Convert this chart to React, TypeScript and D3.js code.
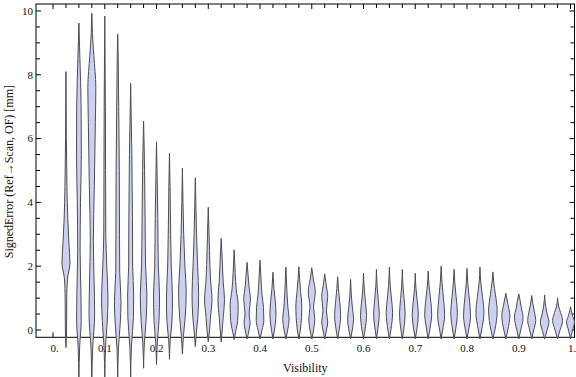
import React from "react";
import * as d3 from "d3";

const visibility = [
  0.025, 0.05, 0.075, 0.1, 0.125, 0.15, 0.175, 0.2, 0.225, 0.25,
  0.275, 0.3, 0.325, 0.35, 0.375, 0.4, 0.425, 0.45, 0.475, 0.5,
  0.525, 0.55, 0.575, 0.6, 0.625, 0.65, 0.675, 0.7, 0.725, 0.75,
  0.775, 0.8, 0.825, 0.85, 0.875, 0.9, 0.925, 0.95, 0.975, 1.0,
];

const errMin = [
  -0.55, -1.6, -1.6, -1.6, -1.6, -1.55, -1.2, -1.08, -0.92, -0.75,
  -0.52, -0.37, -0.37, -0.3, -0.28, -0.28, -0.28, -0.28, -0.28, -0.28,
  -0.28, -0.28, -0.28, -0.28, -0.28, -0.28, -0.28, -0.28, -0.28, -0.28,
  -0.28, -0.28, -0.28, -0.28, -0.28, -0.28, -0.28, -0.28, -0.28, -0.28,
];

const errMax = [
  8.1, 9.62, 9.93, 9.84, 9.28, 7.73, 6.55, 5.9, 5.54, 5.07,
  4.77, 3.85, 2.87, 2.51, 2.12, 2.19, 1.81, 1.97, 1.98, 1.95,
  1.76, 1.67, 1.59, 1.78, 1.9, 1.97, 1.9, 1.78, 1.85, 2.0,
  1.9, 1.93, 1.97, 1.82, 1.15, 1.13, 1.08, 1.1, 1.01, 0.73,
];

// relative density knots [error, density] between min and max
const densityKnots: [number, number][][] = [
  [[0, 0.12], [1, 0.16], [1.6, 0.3], [2.1, 0.8], [2.7, 0.6], [3.5, 0.36], [4.5, 0.2], [6, 0.08]],
  [[-0.5, 0.16], [0.3, 0.46], [1.2, 0.4], [2.5, 0.24], [4, 0.32], [5.5, 0.48], [7, 0.44], [8.5, 0.2]],
  [[-0.6, 0.16], [0.5, 0.56], [1.5, 0.46], [2.8, 0.3], [4.5, 0.5], [6.5, 0.7], [7.6, 0.8], [8.6, 0.4], [9.3, 0.12]],
  [[-0.5, 0.16], [0.3, 0.5], [1, 0.64], [2, 0.4], [3, 0.2], [5, 0.16], [7, 0.12]],
  [[-0.6, 0.14], [0.2, 0.5], [0.9, 0.66], [1.8, 0.4], [3, 0.36], [5, 0.32], [7, 0.2], [8.5, 0.1]],
  [[-0.5, 0.16], [0.4, 0.56], [1.1, 0.6], [2, 0.4], [3.5, 0.36], [5.5, 0.24], [6.8, 0.1]],
  [[-0.4, 0.16], [0.3, 0.5], [1.1, 0.66], [2, 0.4], [3.5, 0.3], [5, 0.2], [6, 0.08]],
  [[-0.4, 0.16], [0.3, 0.5], [1.1, 0.6], [2, 0.36], [3.5, 0.26], [4.8, 0.12]],
  [[-0.3, 0.16], [0.3, 0.52], [1, 0.6], [2, 0.36], [3, 0.24], [4.5, 0.12]],
  [[-0.2, 0.2], [0.4, 0.56], [1.2, 0.76], [2, 0.5], [3, 0.26], [4, 0.12]],
  [[-0.1, 0.2], [0.4, 0.5], [1.1, 0.66], [2, 0.46], [3, 0.24], [4, 0.1]],
  [[0, 0.26], [0.4, 0.44], [0.95, 0.74], [1.6, 0.44], [2.5, 0.24], [3.2, 0.12]],
  [[0, 0.2], [0.4, 0.4], [0.95, 0.66], [1.5, 0.4], [2.2, 0.2]],
  [[-0.05, 0.3], [0.3, 0.7], [0.8, 0.8], [1.25, 0.44], [1.8, 0.2]],
  [[0, 0.4], [0.25, 0.6], [0.5, 0.4], [0.95, 0.66], [1.4, 0.36]],
  [[0, 0.4], [0.3, 0.76], [0.7, 0.7], [1.1, 0.4], [1.6, 0.2]],
  [[0, 0.3], [0.5, 0.6], [0.9, 0.46], [1.3, 0.2]],
  [[0, 0.36], [0.35, 0.64], [0.7, 0.4], [1.1, 0.24], [1.5, 0.12]],
  [[0, 0.3], [0.4, 0.54], [0.75, 0.6], [1.2, 0.36], [1.6, 0.16]],
  [[0, 0.36], [0.35, 0.6], [0.7, 0.36], [1.2, 0.7], [1.6, 0.3]],
  [[0, 0.36], [0.25, 0.6], [0.6, 0.34], [1.05, 0.6], [1.4, 0.3]],
  [[0, 0.3], [0.45, 0.6], [0.9, 0.4], [1.3, 0.16]],
  [[0, 0.34], [0.35, 0.6], [0.7, 0.36], [1.1, 0.14]],
  [[0, 0.3], [0.45, 0.6], [0.85, 0.4], [1.25, 0.16]],
  [[0, 0.26], [0.5, 0.56], [0.95, 0.36], [1.35, 0.14]],
  [[0, 0.3], [0.55, 0.64], [1, 0.4], [1.4, 0.16]],
  [[0, 0.28], [0.5, 0.56], [0.95, 0.36], [1.4, 0.12]],
  [[0, 0.3], [0.5, 0.6], [0.9, 0.4], [1.3, 0.14]],
  [[0, 0.3], [0.5, 0.7], [1, 0.44], [1.4, 0.16]],
  [[0, 0.3], [0.45, 0.7], [1, 0.46], [1.5, 0.16]],
  [[0, 0.3], [0.55, 0.66], [1.05, 0.4], [1.5, 0.14]],
  [[0, 0.32], [0.45, 0.7], [1, 0.44], [1.45, 0.16]],
  [[0, 0.34], [0.55, 0.8], [1.05, 0.5], [1.5, 0.16]],
  [[0, 0.4], [0.6, 0.86], [1.1, 0.52], [1.5, 0.16]],
  [[0, 0.4], [0.45, 0.8], [0.8, 0.44]],
  [[0, 0.4], [0.4, 0.86], [0.7, 0.5], [0.9, 0.3]],
  [[0, 0.4], [0.3, 0.8], [0.6, 0.5], [0.85, 0.2]],
  [[0, 0.5], [0.25, 0.86], [0.5, 0.5], [0.75, 0.2]],
  [[0, 0.5], [0.3, 1.0], [0.55, 0.6], [0.75, 0.2]],
  [[0, 0.4], [0.25, 0.8], [0.45, 0.4], [0.6, 0.16]],
];

const xTickLabels = ["0.", "0.1", "0.2", "0.3", "0.4", "0.5", "0.6", "0.7", "0.8", "0.9", "1."];
const xTickValues = [0, 0.1, 0.2, 0.3, 0.4, 0.5, 0.6, 0.7, 0.8, 0.9, 1.0];
const yTickValues = [0, 2, 4, 6, 8, 10];
const yTickLabels = ["0", "2", "4", "6", "8", "10"];

const W = 576;
const H = 377;
const FONT = "'Liberation Serif', 'Times New Roman', serif";

export default function App() {
  const left = 36, right = 574.5, top = 4, bottom = 337.3;
  const x = d3.scaleLinear().domain([-0.0329, 1.0077]).range([left, right]);
  const y = d3.scaleLinear().domain([-0.229, 10.219]).range([bottom, top]);
  const w = d3.scaleLinear().domain([0, 1]).range([0, 5]);

  const xMinor = d3.range(0, 41).map((i) => i * 0.025).filter((v) => v <= 1.0077);
  const yMinor = d3.range(0, 21).map((i) => i * 0.5);

  const violins = visibility.map((vis, i) => {
    const cx = x(vis);
    const pts: [number, number][] = [[errMin[i], 0], ...densityKnots[i], [errMax[i], 0]];
    const area = d3
      .area<[number, number]>()
      .y((d) => y(d[0]))
      .x0((d) => cx - w(d[1]))
      .x1((d) => cx + w(d[1]))
      .curve(d3.curveMonotoneY);
    return area(pts) || "";
  });

  return (
    <svg
      width={W}
      height={H}
      style={{ position: "absolute", left: 0, top: 0, background: "#fff" }}
      fontFamily={FONT}
    >
      <rect x={0} y={0} width={W} height={H} fill="#fff" />
      {/* frame */}
      <rect x={left} y={top} width={right - left} height={bottom - top} fill="none" stroke="#000" strokeWidth={1} />
      {/* x ticks */}
      {xMinor.map((v, i) => {
        const major = i % 4 === 0;
        const len = major ? 5 : 4;
        return (
          <g key={"xt" + i}>
            <line x1={x(v)} x2={x(v)} y1={bottom} y2={bottom - len} stroke="#000" />
            <line x1={x(v)} x2={x(v)} y1={top} y2={top + len} stroke="#000" />
          </g>
        );
      })}
      {/* y ticks */}
      {yMinor.map((v, i) => {
        const major = i % 4 === 0;
        const len = major ? 5 : 4;
        return (
          <g key={"yt" + i}>
            <line x1={left} x2={left + len} y1={y(v)} y2={y(v)} stroke="#000" />
            <line x1={right} x2={right - len} y1={y(v)} y2={y(v)} stroke="#000" />
          </g>
        );
      })}
      {/* violins */}
      {violins.map((p, i) => (
        <path key={"v" + i} d={p} fill="#ccd1f4" stroke="#4d4d4d" strokeWidth={1} strokeLinejoin="round" />
      ))}
      {/* tick labels */}
      {xTickValues.map((v, i) => (
        <text key={"xl" + i} x={x(v) + (xTickLabels[i].endsWith(".") ? 1.5 : 0)} y={352} fontSize={11} textAnchor="middle" fill="#111">
          {xTickLabels[i]}
        </text>
      ))}
      {yTickValues.map((v, i) => (
        <text key={"yl" + i} x={33} y={y(v) + 3.8} fontSize={11} textAnchor="end" fill="#111">
          {yTickLabels[i]}
        </text>
      ))}
      <text x={(left + right) / 2} y={372.3} fontSize={12} textAnchor="middle" fill="#111">
        Visibility
      </text>
      <text
        transform={`translate(12.5, ${(top + bottom) / 2 + 1}) rotate(-90)`}
        fontSize={12}
        textAnchor="middle"
        fill="#111"
      >
        SignedError (Ref→Scan, OF) [mm]
      </text>
    </svg>
  );
}
